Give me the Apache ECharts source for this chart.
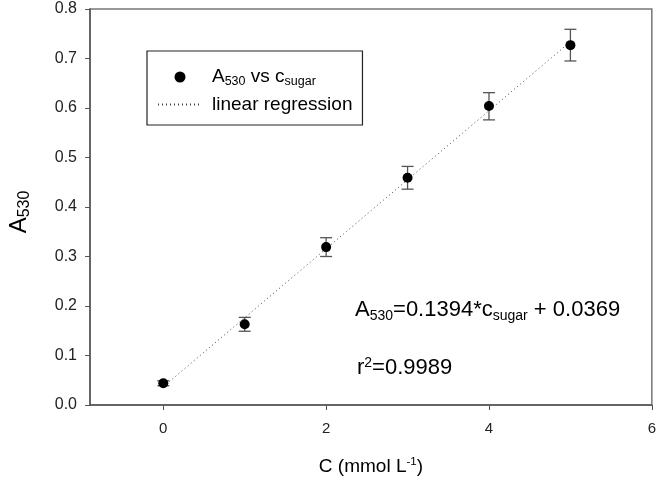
<!DOCTYPE html>
<html><head><meta charset="utf-8">
<script src="https://cdn.jsdelivr.net/npm/echarts@6/dist/echarts.min.js"></script>
<style>html,body{margin:0;padding:0;background:#fff}#c{width:659px;height:481px}</style>
</head><body><div id="c"></div>
<script>
const concentrations = [0, 1, 2, 3, 4, 5];
const absorbance = [0.044, 0.163, 0.319, 0.459, 0.604, 0.727];
const errLow = [0.039, 0.149, 0.300, 0.436, 0.576, 0.695];
const errHigh = [0.049, 0.177, 0.338, 0.482, 0.631, 0.759];
const slope = 0.1394, intercept = 0.0369;
const fitX = [0, 5];
const xTicks = [0, 2, 4, 6];

const F = 'Liberation Sans, Arial, sans-serif';
const chart = echarts.init(document.getElementById('c'));
chart.setOption({
  animation: false,
  grid: {left: 90, top: 9, right: 2, bottom: 74, show: true, borderColor: '#777', borderWidth: 1.5},
  legend: {
    orient: 'vertical', left: 147, top: 51,
    padding: [15, 10, 11, 10], itemGap: 7, itemWidth: 44, itemHeight: 11,
    borderColor: '#222', borderWidth: 1.2,
    textStyle: {fontFamily: F, fontSize: 19, color: '#000', lineHeight: 19, padding: [0, 0, 0, 5],
      rich: {s: {fontSize: 12.5, fontFamily: F, color: '#000', lineHeight: 19, padding: [9,0,0,0]}}},
    data: [{name: 'pts', icon: 'circle'}, {name: 'fit', itemStyle: {opacity: 0}}],
    formatter: n => n === 'pts' ? 'A{s|530} vs c{s|sugar}' : 'linear regression'
  },
  xAxis: {type: 'value', min: -0.9, max: 6,
    name: 'C (mmol L{sup|-1})', nameLocation: 'middle', nameGap: 51,
    nameTextStyle: {fontFamily: F, fontSize: 19, color: '#000',
      rich: {sup: {fontSize: 11.5, fontFamily: F, color: '#000', padding: [0,0,9,0]}}},
    axisLine: {onZero: false, lineStyle: {color: '#555', width: 1.5}},
    axisTick: {show: true, length: 5, customValues: xTicks, lineStyle: {color: '#555'}},
    axisLabel: {customValues: xTicks, fontFamily: F, fontSize: 15, color: '#222', margin: 16},
    splitLine: {show: false}},
  yAxis: {type: 'value', min: 0, max: 0.8, interval: 0.1,
    axisLine: {onZero: false, lineStyle: {color: '#555', width: 1.5}},
    axisTick: {length: 5, lineStyle: {color: '#555'}},
    axisLabel: {fontFamily: F, fontSize: 16, color: '#222', margin: 13, formatter: v => v.toFixed(1)},
    splitLine: {show: false}},
  series: [
    {name: 'fit', type: 'line', symbol: 'none', z: 1,
      data: fitX.map(x => [x, slope * x + intercept]),
      itemStyle: {color: '#444'},
      lineStyle: {color: '#444', width: 1, type: [1, 3]}},
    {name: 'err', type: 'custom', z: 2,
      data: concentrations.map((x, i) => [x, errLow[i], errHigh[i]]),
      renderItem: (params, api) => {
        const lo = api.coord([api.value(0), api.value(1)]);
        const hi = api.coord([api.value(0), api.value(2)]);
        const w = 6;
        const st = {stroke: '#555', lineWidth: 1.3};
        return {type: 'group', children: [
          {type: 'line', shape: {x1: lo[0], y1: lo[1], x2: hi[0], y2: hi[1]}, style: st},
          {type: 'line', shape: {x1: lo[0]-w, y1: lo[1], x2: lo[0]+w, y2: lo[1]}, style: st},
          {type: 'line', shape: {x1: hi[0]-w, y1: hi[1], x2: hi[0]+w, y2: hi[1]}, style: st}
        ]};
      }},
    {name: 'pts', type: 'scatter', symbol: 'circle', symbolSize: 10, z: 3,
      itemStyle: {color: '#000', opacity: 1},
      data: concentrations.map((x, i) => [x, absorbance[i]])}
  ],
  graphic: [
    {type: 'text', x: 19, y: 212, rotation: Math.PI / 2, style: {
      text: 'A{s|530}', fontFamily: F, fontSize: 24, fill: '#000', align: 'center', verticalAlign: 'middle',
      rich: {s: {fontSize: 16, fontFamily: F, fill: '#000', padding: [12,0,0,0]}}}},
    {type: 'text', left: 355, top: 299, style: {
      text: 'A{s|530}=0.1394*c{s|sugar} + 0.0369', fontFamily: F, fontSize: 22, fill: '#000',
      rich: {s: {fontSize: 14, fontFamily: F, fill: '#000', padding: [13,0,0,0]}}}},
    {type: 'text', left: 357, top: 356, style: {
      text: 'r{p|2}=0.9989', fontFamily: F, fontSize: 22, fill: '#000',
      rich: {p: {fontSize: 14, fontFamily: F, fill: '#000', padding: [0,0,10,0]}}}}
  ]
});
</script></body></html>
